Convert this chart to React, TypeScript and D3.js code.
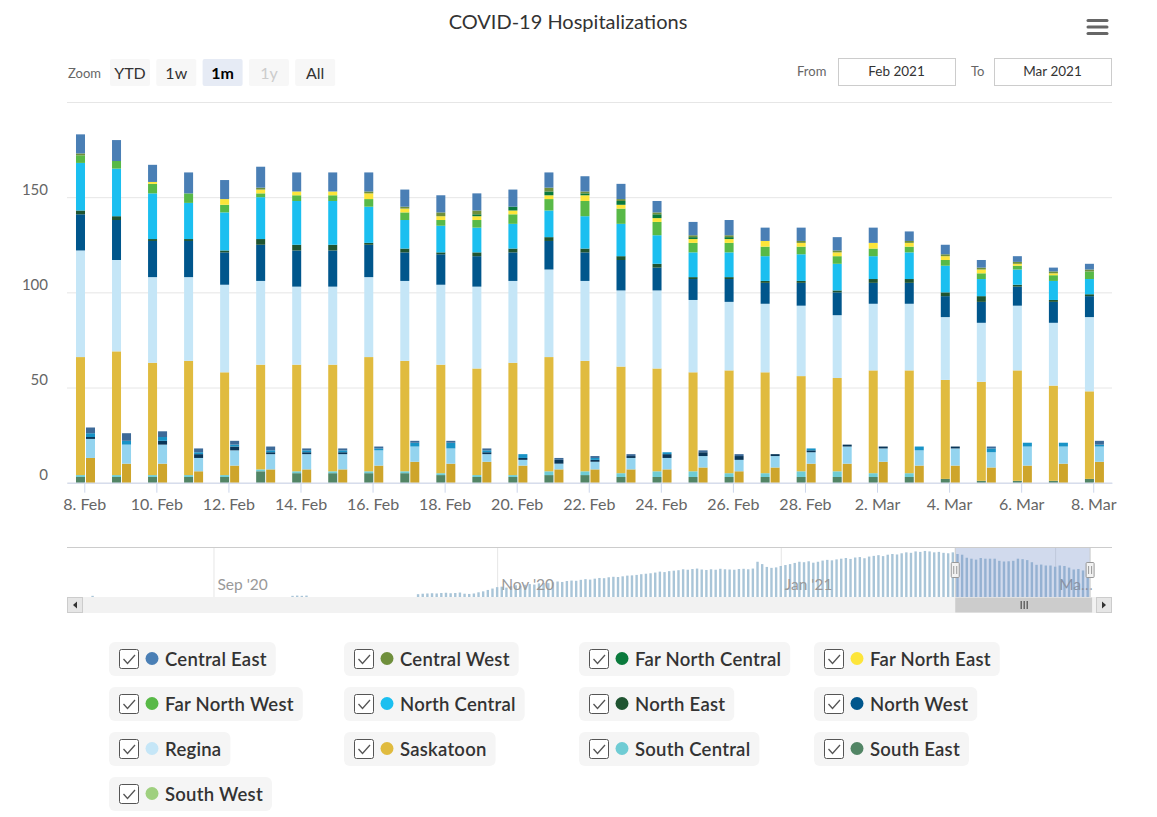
import { useEffect, useRef } from 'react';
import * as d3 from 'd3';

const W = 1157;
const H = 817;
const FONT = "Lato, 'Noto Sans', sans-serif";

const regions = [
  'Central East', 'Central West', 'Far North Central', 'Far North East',
  'Far North West', 'North Central', 'North East', 'North West',
  'Regina', 'Saskatoon', 'South Central', 'South East', 'South West',
];
const regionColors = [
  '#4a7fb5', '#6f8f3c', '#0a7a3c', '#fde53a', '#58b947', '#1bbff0', '#1f5431',
  '#00568c', '#c5e6f7', '#e0bb3f', '#6fccd4', '#528565', '#9fd07f',
];
// the ICU column of each day is drawn in darker shades
const icuColors = [
  '#3d6a98', '#5e7a33', '#086632', '#e0c830', '#49a03c', '#1893c6', '#173f27',
  '#0a3658', '#94d4ef', '#cea52b', '#5bb3bb', '#44705a', '#88b86c',
];

const firstDay = '2021-02-08';

// hospitalized, 8 Feb .. 8 Mar
const hospCentralEast = [10, 11, 9, 11, 10, 11, 10, 10, 10, 9, 9, 9, 9, 8, 8, 8, 6, 7, 8, 7, 7, 7, 8, 5, 5, 4, 3, 2, 3];
const hospCentralWest = [1, 0, 0, 0, 0, 1, 0, 0, 1, 1, 2, 2, 0, 2, 1, 1, 1, 1, 1, 0, 1, 1, 0, 1, 1, 1, 1, 1, 1];
const hospFarNorthCentral = [0, 0, 0, 0, 0, 0, 0, 0, 0, 0, 0, 1, 2, 2, 1, 2, 2, 1, 1, 0, 0, 0, 0, 0, 0, 0, 0, 0, 0];
const hospFarNorthEast = [0, 0, 1, 0, 3, 2, 2, 2, 3, 2, 2, 2, 2, 2, 3, 2, 2, 2, 2, 3, 2, 2, 3, 2, 2, 2, 1, 1, 0];
const hospFarNorthWest = [4, 4, 5, 5, 4, 2, 3, 3, 4, 4, 3, 4, 5, 6, 8, 8, 7, 5, 5, 5, 4, 4, 4, 3, 3, 3, 2, 3, 4];
const hospNorthCentral = [25, 25, 24, 19, 20, 22, 23, 23, 19, 15, 14, 13, 13, 14, 17, 17, 15, 13, 13, 13, 14, 14, 12, 14, 14, 9, 8, 10, 8];
const hospNorthEast = [2, 2, 1, 1, 1, 3, 3, 3, 1, 2, 1, 2, 2, 2, 2, 2, 2, 1, 1, 1, 1, 1, 2, 2, 2, 3, 1, 1, 1];
const hospNorthWest = [19, 21, 19, 19, 17, 19, 19, 19, 17, 15, 16, 16, 15, 15, 15, 16, 12, 11, 12, 11, 12, 12, 11, 11, 11, 11, 10, 11, 11];
const hospRegina = [56, 48, 45, 44, 46, 44, 41, 41, 42, 42, 42, 43, 43, 46, 42, 40, 41, 38, 36, 36, 37, 33, 35, 35, 33, 31, 34, 33, 39];
const hospSaskatoon = [62, 65, 59, 60, 54, 55, 56, 56, 60, 58, 57, 56, 59, 60, 58, 56, 54, 52, 54, 53, 50, 49, 54, 54, 52, 52, 58, 50, 46];
const hospSouthCentral = [1, 1, 1, 1, 1, 1, 1, 1, 1, 1, 1, 1, 1, 2, 2, 2, 3, 3, 2, 2, 3, 3, 2, 2, 0, 0, 0, 0, 0];
const hospSouthEast = [3, 3, 3, 3, 3, 6, 5, 5, 5, 5, 4, 3, 3, 4, 4, 3, 3, 3, 3, 3, 3, 3, 3, 3, 2, 1, 1, 1, 2];
const hospSouthWest = [0, 0, 0, 0, 0, 0, 0, 0, 0, 0, 0, 0, 0, 0, 0, 0, 0, 0, 0, 0, 0, 0, 0, 0, 0, 0, 0, 0, 0];

// ICU, same days (regions not listed are 0)
const icuCentralEast = [3, 4, 3, 2, 2, 2, 1, 1, 1, 1, 1, 1, 0, 1, 1, 1, 0, 1, 1, 0, 0, 0, 0, 0, 0, 1, 0, 0, 2];
const icuNorthCentral = [2, 2, 2, 1, 1, 1, 1, 1, 1, 2, 3, 1, 2, 0, 1, 0, 1, 0, 0, 0, 1, 0, 0, 2, 0, 2, 2, 2, 1];
const icuNorthWest = [1, 0, 2, 2, 2, 1, 1, 1, 0, 0, 0, 1, 1, 2, 1, 1, 2, 2, 2, 1, 1, 1, 1, 0, 1, 0, 0, 0, 0];
const icuRegina = [10, 10, 10, 7, 8, 8, 8, 8, 8, 8, 8, 4, 3, 3, 4, 6, 6, 6, 6, 6, 6, 9, 7, 8, 9, 8, 10, 9, 8];
const icuSaskatoon = [13, 10, 10, 6, 9, 7, 7, 7, 9, 11, 10, 11, 9, 7, 7, 7, 7, 8, 6, 8, 10, 10, 11, 9, 9, 8, 9, 10, 11];

const yTicks = [0, 50, 100, 150, 200];

// navigator: a few early points, then daily totals from 15 Oct 2020 to 7 Feb 2021
const navEarlyDates = ['2020-08-06', '2020-09-18', '2020-09-19', '2020-09-20', '2020-09-21'];
const navEarlyValues = [5, 5, 6, 5, 6];
const navDailyStart = '2020-10-15';
const navDailyValues = [
  12, 14, 15, 16, 15, 17, 18, 16, 17, 19, 14, 13, 15, 20, 24, 30, 36,
  42, 44, 40, 46, 50, 48, 52, 55, 53, 58, 60, 59, 63, 66, 64, 68, 70, 69, 73, 76, 74, 78, 81, 80, 84, 86, 85, 88, 91, 92,
  94, 97, 99, 101, 104, 108, 106, 110, 112, 114, 118, 116, 119, 121, 117, 115, 118, 116, 120, 118, 117, 116, 119, 120, 118, 121, 150, 140, 128, 124, 126,
  132, 136, 140, 145, 150, 148, 152, 146, 150, 155, 158, 156, 160, 163, 166, 162, 168, 170, 165, 172, 175, 178, 174, 180, 183, 181, 186, 190, 188, 194, 192,
  196, 194, 190, 192, 188, 186, 190,
];
const navTickDates = ['2020-09-01', '2020-11-01', '2021-01-01', '2021-03-01'];

const zoomButtons = ['YTD', '1w', '1m', '1y', 'All'];
const selectedButton = '1m';
const disabledButton = '1y';
const rangeFrom = 'Feb 2021';
const rangeTo = 'Mar 2021';

export default function App() {
  const ref = useRef<SVGSVGElement>(null);

  useEffect(() => {
    const svg = d3.select(ref.current);
    svg.selectAll('*').remove();
    const parse = d3.timeParse('%Y-%m-%d');

    const hospByRegion = [
      hospCentralEast, hospCentralWest, hospFarNorthCentral, hospFarNorthEast, hospFarNorthWest,
      hospNorthCentral, hospNorthEast, hospNorthWest, hospRegina, hospSaskatoon,
      hospSouthCentral, hospSouthEast, hospSouthWest,
    ];
    const icuByRegion: (number[] | null)[] = [
      icuCentralEast, null, null, null, null, icuNorthCentral, null, icuNorthWest,
      icuRegina, icuSaskatoon, null, null, null,
    ];

    const day0 = parse(firstDay)!;
    const days = hospCentralEast.map((_, i) => d3.timeDay.offset(day0, i));

    const mkRows = (src: (number[] | null)[]) => days.map((date, i) => {
      const row: Record<string, any> = { date };
      regions.forEach((r, k) => { row[r] = src[k] ? src[k]![i] : 0; });
      return row;
    });
    const stack = d3.stack<Record<string, any>>().keys([...regions].reverse());
    const stacks = [
      { name: 'Hospitalized', layers: stack(mkRows(hospByRegion)), colors: regionColors },
      { name: 'ICU', layers: stack(mkRows(icuByRegion)), colors: icuColors },
    ];

    const left = 67, right = 1112, top = 102, bottom = 482.7;
    const x = d3.scaleTime()
      .domain([new Date(2021, 1, 7, 12, 29), new Date(2021, 2, 8, 12, 30)])
      .range([left, right]);
    const y = d3.scaleLinear().domain([0, 200]).range([bottom, top]);
    const band = d3.scaleBand().domain(stacks.map(s => s.name)).range([-8.3, 10.7]).paddingInner(0.1);

    // title + export menu
    svg.append('text').attr('x', 568).attr('y', 29).attr('text-anchor', 'middle')
      .attr('font-size', 20).attr('fill', '#333').text('COVID-19 Hospitalizations');
    [20.5, 27, 33.5].forEach(yy => {
      svg.append('line').attr('x1', 1088).attr('x2', 1107).attr('y1', yy).attr('y2', yy)
        .attr('stroke', '#666').attr('stroke-width', 3).attr('stroke-linecap', 'round');
    });

    // range selector
    svg.append('text').attr('x', 68).attr('y', 78).attr('font-size', 13).attr('fill', '#666').text('Zoom');
    zoomButtons.forEach((b, i) => {
      const bx = 110 + i * 46.3;
      const sel = b === selectedButton;
      svg.append('rect').attr('x', bx).attr('y', 59).attr('width', 40).attr('height', 27).attr('rx', 2)
        .attr('fill', sel ? '#e6ebf5' : '#f7f7f7');
      svg.append('text').attr('x', bx + 20).attr('y', 78.5).attr('text-anchor', 'middle')
        .attr('font-size', 16).attr('font-weight', sel ? 700 : 400)
        .attr('fill', b === disabledButton ? '#cccccc' : sel ? '#000' : '#333').text(b);
    });
    const inputs = [
      { label: 'From', lx: 797, bx: 838, value: rangeFrom },
      { label: 'To', lx: 971, bx: 994, value: rangeTo },
    ];
    inputs.forEach(inp => {
      svg.append('text').attr('x', inp.lx).attr('y', 76).attr('font-size', 13).attr('fill', '#666').text(inp.label);
      svg.append('rect').attr('x', inp.bx + 0.5).attr('y', 58.5).attr('width', 117).attr('height', 27)
        .attr('fill', '#fff').attr('stroke', '#cccccc');
      svg.append('text').attr('x', inp.bx + 58.5).attr('y', 76).attr('text-anchor', 'middle')
        .attr('font-size', 13.5).attr('fill', '#333').text(inp.value);
    });

    // y grid + labels
    svg.append('g').attr('transform', `translate(${left},0)`)
      .call(d3.axisLeft(y).tickValues(yTicks).tickSize(-(right - left)).tickPadding(19)
        .tickFormat(d => (+d === 200 ? '' : `${d}`)))
      .call(g => g.select('.domain').remove())
      .call(g => g.selectAll('line').attr('stroke', '#e6e6e6'))
      .call(g => g.selectAll('text').attr('fill', '#666').attr('font-size', 15)
        .attr('font-family', FONT).attr('dy', -3));

    // stacked columns
    stacks.forEach(s => {
      s.layers.forEach(layer => {
        const color = s.colors[regions.indexOf(layer.key)];
        svg.append('g').selectAll('rect')
          .data(layer.filter(d => d[1] - d[0] > 0))
          .enter().append('rect')
          .attr('x', d => x(d.data.date) + band(s.name)!)
          .attr('width', band.bandwidth())
          .attr('y', d => y(d[1]))
          .attr('height', d => y(d[0]) - y(d[1]))
          .attr('fill', color);
      });
    });

    // x axis
    const tickDates = d3.timeDay.range(day0, d3.timeDay.offset(day0, days.length), 2);
    svg.append('g').attr('transform', `translate(0,${bottom})`)
      .call(d3.axisBottom(x).tickValues(tickDates).tickSize(10).tickSizeOuter(0).tickPadding(6)
        .tickFormat(d => d3.timeFormat('%-d. %b')(d as Date)))
      .call(g => g.select('.domain').attr('stroke', '#ccd6eb'))
      .call(g => g.selectAll('line').attr('stroke', '#ccd6eb'))
      .call(g => g.selectAll('text').attr('fill', '#666').attr('font-size', 16).attr('font-family', FONT));

    // navigator
    const navTop = 547, navBottom = 597, navLeft = 67, navRight = 1090;
    const navX = d3.scaleTime()
      .domain([new Date(2020, 6, 31, 12), new Date(2021, 2, 8, 12)])
      .range([navLeft, navRight]);
    const navY = d3.scaleLinear().domain([0, 200]).range([navBottom, 550]);
    const totals = days.map((_, i) => d3.sum(hospByRegion, arr => arr[i]));
    const navStart = parse(navDailyStart)!;
    const navData = [
      ...navEarlyDates.map((d, i) => ({ date: parse(d)!, v: navEarlyValues[i] })),
      ...navDailyValues.map((v, i) => ({ date: d3.timeDay.offset(navStart, i), v })),
      ...days.map((date, i) => ({ date, v: totals[i] })),
    ];

    svg.append('g').attr('transform', `translate(0,${navTop})`)
      .call(d3.axisBottom(navX).tickValues(navTickDates.map(d => parse(d)!)).tickSize(navBottom - navTop)
        .tickFormat(() => ''))
      .call(g => g.select('.domain').remove())
      .call(g => g.selectAll('line').attr('stroke', '#e6e6e6'));

    svg.append('g').selectAll('rect').data(navData).enter().append('rect')
      .attr('x', d => navX(d.date) - 1.2).attr('width', 2.4)
      .attr('y', d => navY(d.v)).attr('height', d => navBottom - navY(d.v))
      .attr('fill', '#a9c5d8');

    navTickDates.forEach(d => {
      const tx = navX(parse(d)!) + 4;
      const t = svg.append('text').attr('x', tx).attr('y', 590).attr('font-size', 15.5).attr('fill', '#999')
        .text(d3.timeFormat("%b '%y")(parse(d)!));
      const node = t.node() as SVGTextElement;
      let label = t.text();
      while (label.length > 1 && tx + node.getComputedTextLength() > navRight + 5) {
        label = label.slice(0, -1);
        t.text(label.trimEnd() + '…');
      }
    });

    const mx0 = navX(x.domain()[0]);
    const mx1 = navX(x.domain()[1]);
    svg.append('rect').attr('x', mx0).attr('y', navTop).attr('width', mx1 - mx0).attr('height', navBottom - navTop)
      .attr('fill', 'rgba(102,133,194,0.3)');
    svg.append('line').attr('x1', navLeft).attr('x2', right).attr('y1', navTop + 0.5).attr('y2', navTop + 0.5)
      .attr('stroke', '#cccccc');
    [mx0, mx1].forEach(mx => {
      svg.append('line').attr('x1', mx).attr('x2', mx).attr('y1', navTop).attr('y2', navBottom)
        .attr('stroke', '#cccccc');
    });

    // scrollbar
    const sbTop = 597, sbH = 16;
    svg.append('rect').attr('x', navLeft).attr('y', sbTop).attr('width', right - navLeft).attr('height', sbH)
      .attr('fill', '#f2f2f2');
    svg.append('rect').attr('x', mx0).attr('y', sbTop + 0.5).attr('width', mx1 - mx0 + 2).attr('height', sbH - 1)
      .attr('fill', '#cccccc');
    const rc = (mx0 + mx1) / 2 + 1;
    [-3, 0, 3].forEach(o => {
      svg.append('line').attr('x1', rc + o + 0.5).attr('x2', rc + o + 0.5).attr('y1', sbTop + 4).attr('y2', sbTop + 12)
        .attr('stroke', '#333');
    });
    [{ bx: navLeft, dir: -1 }, { bx: right - 16, dir: 1 }].forEach(b => {
      svg.append('rect').attr('x', b.bx + 0.5).attr('y', sbTop + 0.5).attr('width', 15).attr('height', sbH - 1)
        .attr('fill', '#e6e6e6').attr('stroke', '#cccccc');
      const cx = b.bx + 8, cy = sbTop + 8;
      svg.append('path')
        .attr('d', `M${cx - 2 * b.dir},${cy - 3.5} L${cx + 2 * b.dir},${cy} L${cx - 2 * b.dir},${cy + 3.5} Z`)
        .attr('fill', '#333');
    });

    // navigator handles
    [mx0, mx1].forEach(mx => {
      svg.append('rect').attr('x', mx - 4).attr('y', 562.5).attr('width', 8).attr('height', 15).attr('rx', 1)
        .attr('fill', '#f2f2f2').attr('stroke', '#999');
      [-1.5, 1.5].forEach(o => {
        svg.append('line').attr('x1', mx + o).attr('x2', mx + o).attr('y1', 566).attr('y2', 574)
          .attr('stroke', '#999');
      });
    });

    // legend
    const colX = [109, 344, 579, 814];
    const rowY = [659, 704, 749, 794];
    regions.forEach((r, i) => {
      const lx = colX[i % 4];
      const cy = rowY[Math.floor(i / 4)];
      const g = svg.append('g');
      const box = g.append('rect').attr('x', lx).attr('y', cy - 17).attr('height', 34).attr('rx', 6)
        .attr('fill', '#f5f5f5');
      g.append('rect').attr('x', lx + 10.5).attr('y', cy - 9.5).attr('width', 19).attr('height', 19).attr('rx', 2)
        .attr('fill', '#fff').attr('stroke', '#555');
      g.append('path').attr('d', `M${lx + 14.5},${cy} L${lx + 18.5},${cy + 4.5} L${lx + 26},${cy - 4}`)
        .attr('fill', 'none').attr('stroke', '#555').attr('stroke-width', 1.3);
      g.append('circle').attr('cx', lx + 43).attr('cy', cy - 0.5).attr('r', 6.5).attr('fill', regionColors[i]);
      const t = g.append('text').attr('x', lx + 56).attr('y', cy + 6.5).attr('font-size', 18.5)
        .attr('letter-spacing', 0.25).attr('font-weight', 600).attr('fill', '#333').text(r);
      const len = (t.node() as SVGTextElement).getComputedTextLength();
      box.attr('width', 56 + len + 9);
    });
  }, []);

  return (
    <div style={{ position: 'absolute', left: 0, top: 0, width: W, height: H, background: '#fff' }}>
      <svg ref={ref} width={W} height={H} style={{ display: 'block', fontFamily: FONT }} />
    </div>
  );
}
